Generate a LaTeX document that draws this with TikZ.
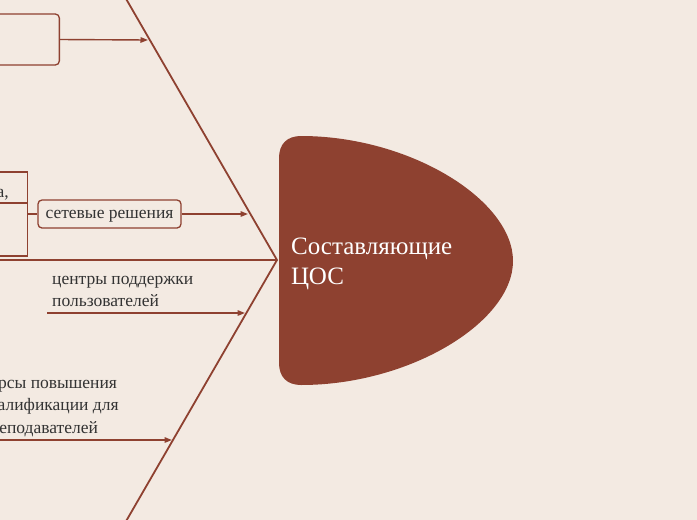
\documentclass[tikz,border=0pt]{standalone}
\usepackage{fontspec}
\setmainfont{Liberation Serif}
\usetikzlibrary{arrows.meta}
\definecolor{bg}{HTML}{F3EAE2}
\definecolor{br}{HTML}{8E4130}
\definecolor{tx}{HTML}{333333}
\begin{document}
\begin{tikzpicture}[x=1pt,y=-1pt,
  spine/.style={draw=br,line width=2.8pt},
  bone/.style={draw=br,line width=1.8pt},
  arr/.style={draw=br,line width=1.4pt,-{Triangle[length=7.5pt,width=5.5pt]}},
  rbox/.style={draw=br,line width=1.3pt,rounded corners=4pt,inner sep=0pt},
  sbox/.style={draw=br,line width=1.3pt,inner sep=0pt},
  lbl/.style={text=tx,font=\fontsize{17.5pt}{22.5pt}\selectfont,align=left,inner sep=0pt},
  headtxt/.style={text=white,font=\fontsize{25pt}{30pt}\selectfont,align=left,inner sep=0pt}]
\useasboundingbox (0,0) rectangle (697,520);
\fill[bg] (0,0) rectangle (697,520);
\clip (0,0) rectangle (697,520);
% fish head
\fill[br] (301,136) .. controls (410,136) and (513,200) .. (513,261)
  .. controls (513,322) and (410,385) .. (301,385)
  .. controls (287,385) and (279,377) .. (279,363) -- (279,158)
  .. controls (279,144) and (287,136) .. (301,136) -- cycle;
\node[headtxt,anchor=west] (head) at (291,264) {Составляющие\\ЦОС};
% spine and bones
\coordinate (tail) at (277,260);
\coordinate (sl) at (-3,260);
\coordinate (ub) at (125,-3);
\coordinate (lb) at (125,523);
\draw[spine] (sl) -- (tail);
\draw[bone] (ub) -- (tail) -- (lb);
% top box
\node[rbox,minimum width=90pt,minimum height=51pt,anchor=east] (b1) at (60,39.5) {};
\coordinate (a1) at (148,40);
\draw[arr] (b1.east) -- (a1);
% left box
\node[sbox,minimum width=50pt,minimum height=84pt,anchor=east] (lbox) at (28,214) {};
\coordinate (dvl) at (-5,203);
\coordinate (dvr) at (28,203);
\draw[br,line width=1.3pt] (dvl) -- (dvr);
\node[lbl,anchor=base east] (ta) at (9,197) {а,};
% network solutions
\node[rbox,minimum width=143pt,minimum height=28pt,lbl,draw=br,text depth=0pt] (sr) at (109.5,214) {сетевые решения};
\draw[br,line width=1.3pt] (lbox.east |- sr.west) -- (sr.west);
\coordinate (a2) at (248,214);
\draw[arr] (sr.east) -- (a2);
% support centres
\node[lbl,anchor=north west] (cp) at (52,276) {центры поддержки\\пользователей};
\coordinate (u1) at (47,313);
\coordinate (a3) at (245,313);
\draw[arr] (u1) -- (a3);
% courses
\node[lbl,anchor=north west] (kp) at (-19,380) {курсы повышения\\квалификации для\\преподавателей};
\coordinate (u2) at (-3,440);
\coordinate (a4) at (172,440);
\draw[arr] (u2) -- (a4);
\end{tikzpicture}
\end{document}
